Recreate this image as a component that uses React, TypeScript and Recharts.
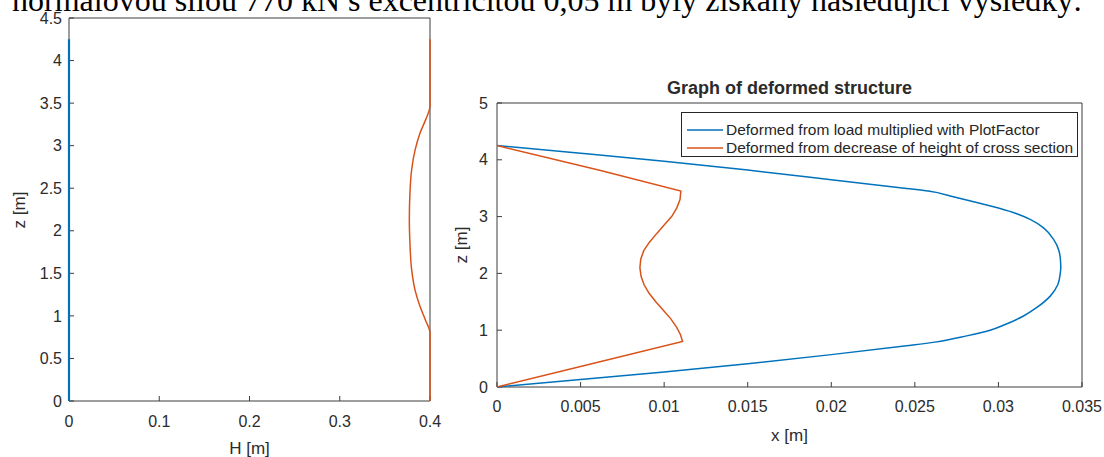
import React from 'react';
import { LineChart, Line, XAxis, YAxis, Legend } from 'recharts';

const headerText = 'normálovou silou 770 kN s excentricitou 0,05 m byly získány následující výsledky:';

// left plot: height of the cross section along the column
const hTicks = [0, 0.1, 0.2, 0.3, 0.4];
const zTicksLeft = [0, 0.5, 1, 1.5, 2, 2.5, 3, 3.5, 4, 4.5];
const axisH = [0, 0];
const axisZ = [4.25, 0];
const heightH = [0.4, 0.4, 0.395, 0.389, 0.3835, 0.3797, 0.3778, 0.3771, 0.3778, 0.3797, 0.3835, 0.389, 0.395, 0.4, 0.4];
const heightZ = [4.25, 3.47, 3.3, 3.15, 2.95, 2.72, 2.45, 2.13, 1.85, 1.54, 1.3, 1.11, 0.95, 0.8, 0];

// right plot: deformed shapes
const xTicks = [0, 0.005, 0.01, 0.015, 0.02, 0.025, 0.03, 0.035];
const zTicksRight = [0, 1, 2, 3, 4, 5];
const seriesNames = ['Deformed from load multiplied with PlotFactor', 'Deformed from decrease of height of cross section'];
const loadX = [
  0, 0.005, 0.01, 0.015, 0.02, 0.0245, 0.0258, 0.0273, 0.0287, 0.03, 0.0311, 0.0319, 0.0327, 0.0333, 0.03362, 0.03372,
  0.03373, 0.0337, 0.03355, 0.0331, 0.0323, 0.0315, 0.0304, 0.0295, 0.0281, 0.0262, 0.0245, 0.02, 0.015, 0.01, 0.005, 0,
];
const loadZ = [
  4.25, 4.115, 3.975, 3.82, 3.65, 3.495, 3.45, 3.35, 3.25, 3.15, 3.05, 2.95, 2.8, 2.6, 2.4, 2.2,
  2.1, 2.0, 1.8, 1.6, 1.4, 1.25, 1.1, 1.0, 0.9, 0.79, 0.725, 0.57, 0.41, 0.265, 0.13, 0,
];
const sectionX = [
  0, 0.0062, 0.011, 0.01095, 0.01075, 0.01045, 0.01, 0.00955, 0.00912, 0.00878, 0.0086, 0.00855,
  0.00862, 0.0088, 0.0091, 0.0095, 0.00995, 0.0104, 0.01075, 0.01098, 0.0111, 0.005, 0,
];
const sectionZ = [
  4.25, 3.81, 3.45, 3.3, 3.15, 3.0, 2.85, 2.7, 2.55, 2.4, 2.25, 2.1,
  1.95, 1.8, 1.65, 1.5, 1.35, 1.2, 1.05, 0.92, 0.8, 0.36, 0,
];

const toPoints = (xs: number[], zs: number[]) => xs.map((x, i) => ({ x, z: zs[i] }));

const BLUE = '#0072BD';
const ORANGE = '#D95319';
const AXIS = '#3c3c3c';
const FONT = '"Liberation Sans", Arial, Helvetica, sans-serif';
const tickStyle = { fill: '#2b2b2b', fontSize: 16, fontFamily: FONT };

const labelStyle: React.CSSProperties = {
  position: 'absolute',
  fontFamily: FONT,
  fontSize: 17,
  color: '#2b2b2b',
  lineHeight: '20px',
  whiteSpace: 'nowrap',
};

const rotated = (cx: number, cy: number): React.CSSProperties => ({
  ...labelStyle,
  left: cx,
  top: cy,
  transform: 'translate(-50%, -50%) rotate(-90deg)',
});

const renderLegend = (props: any) => {
  const entries = (props.payload || []).filter((e: any) => seriesNames.includes(e.value));
  entries.sort((a: any, b: any) => seriesNames.indexOf(a.value) - seriesNames.indexOf(b.value));
  return (
    <div
      style={{
        border: '1px solid #262626',
        background: '#fff',
        width: 397,
        height: 45,
        paddingTop: 8,
        boxSizing: 'border-box',
        fontFamily: FONT,
        fontSize: 15.5,
        color: '#262626',
      }}
    >
      {entries.map((entry: any) => (
        <div key={entry.value} style={{ display: 'flex', alignItems: 'center', height: 18, lineHeight: '18px' }}>
          <svg width={36} height={4} style={{ marginLeft: 5 }}>
            <line x1={0} y1={2} x2={36} y2={2} stroke={entry.color} strokeWidth={1.5} />
          </svg>
          <span style={{ marginLeft: 3, whiteSpace: 'nowrap' }}>{entry.value}</span>
        </div>
      ))}
    </div>
  );
};

// axes box with inward ticks on all four sides (MATLAB style)
const AxesBox: React.FC<{
  width: number; height: number; margin: any; xDomain: number[]; yDomain: number[];
  xTicks: number[]; yTicks: number[]; yWidth: number; xMargin: number; yMargin: number; points: any[];
}> = ({ width, height, margin, xDomain, yDomain, xTicks, yTicks, yWidth, xMargin, yMargin, points }) => (
  <LineChart width={width} height={height} margin={margin}>
    <XAxis xAxisId="b" type="number" dataKey="x" domain={xDomain} ticks={xTicks} interval={0} height={40}
      stroke={AXIS} tickSize={-5} tickMargin={xMargin} tick={tickStyle} allowDataOverflow />
    <XAxis xAxisId="t" orientation="top" type="number" dataKey="x" domain={xDomain} ticks={xTicks} interval={0} height={1}
      stroke={AXIS} tickSize={-5} tick={false} allowDataOverflow />
    <YAxis yAxisId="l" type="number" dataKey="z" domain={yDomain} ticks={yTicks} interval={0} width={yWidth}
      stroke={AXIS} tickSize={-5} tickMargin={yMargin} tick={tickStyle} allowDataOverflow />
    <YAxis yAxisId="r" orientation="right" type="number" dataKey="z" domain={yDomain} ticks={yTicks} interval={0} width={1}
      stroke={AXIS} tickSize={-5} tick={false} allowDataOverflow />
    <Line xAxisId="b" yAxisId="l" data={points} dataKey="z" stroke="none" legendType="none"
      dot={false} activeDot={false} isAnimationActive={false} />
    <Line xAxisId="t" yAxisId="r" data={points} dataKey="z" stroke="none" legendType="none"
      dot={false} activeDot={false} isAnimationActive={false} />
  </LineChart>
);

const App: React.FC = () => {
  const layer: React.CSSProperties = { position: 'absolute', left: 0, top: 0 };
  return (
    <div style={{ position: 'absolute', left: 0, top: 0, width: 1104, height: 457, overflow: 'hidden', background: '#fff' }}>
      <div
        style={{
          position: 'absolute',
          left: 12,
          top: -16,
          fontFamily: '"Liberation Serif", "Times New Roman", serif',
          fontSize: 32,
          lineHeight: '32px',
          whiteSpace: 'nowrap',
          color: '#000',
        }}
      >
        {headerText}
      </div>

      {/* left plot */}
      <div style={{ position: 'absolute', left: 0, top: 0, width: 450, height: 457 }}>
        <div style={layer}>
          <AxesBox width={450} height={457} margin={{ top: 17, right: 19, bottom: 16, left: 9 }}
            xDomain={[0, 0.4]} yDomain={[0, 4.5]} xTicks={hTicks} yTicks={zTicksLeft}
            yWidth={60} xMargin={20} yMargin={12} points={toPoints(axisH, axisZ)} />
        </div>
        <div style={layer}>
          <LineChart width={450} height={457} margin={{ top: 18, right: 20, bottom: 56, left: 69 }}>
            <XAxis type="number" dataKey="x" domain={[0, 0.4]} hide />
            <YAxis type="number" dataKey="z" domain={[0, 4.5]} hide />
            <Line data={toPoints(axisH, axisZ)} dataKey="z" type="linear" stroke={BLUE}
              strokeWidth={2.2} dot={false} isAnimationActive={false} />
            <Line data={toPoints(heightH, heightZ)} dataKey="z" type="monotoneY" stroke={ORANGE}
              strokeWidth={1.5} dot={false} isAnimationActive={false} />
          </LineChart>
        </div>
      </div>
      <div style={rotated(20, 210)}>z [m]</div>
      <div style={{ ...labelStyle, left: 69, width: 361, top: 439, textAlign: 'center' }}>H [m]</div>

      {/* right plot */}
      <div style={{ position: 'absolute', left: 440, top: 60, width: 664, height: 397 }}>
        <div style={layer}>
          <AxesBox width={664} height={397} margin={{ top: 42, right: 21, bottom: 30, left: 7 }}
            xDomain={[0, 0.035]} yDomain={[0, 5]} xTicks={xTicks} yTicks={zTicksRight}
            yWidth={50} xMargin={19} yMargin={14} points={toPoints(loadX, loadZ)} />
        </div>
        <div style={layer}>
          <LineChart width={664} height={397} margin={{ top: 43, right: 22, bottom: 70, left: 57 }}>
            <XAxis type="number" dataKey="x" domain={[0, 0.035]} hide />
            <YAxis type="number" dataKey="z" domain={[0, 5]} hide />
            <Legend content={renderLegend} layout="vertical" align="center" verticalAlign="middle"
              wrapperStyle={{ left: 241, top: 52, width: 397 }} />
            <Line data={toPoints(loadX, loadZ)} dataKey="z" name={seriesNames[0]}
              type="monotoneY" stroke={BLUE} strokeWidth={1.5} dot={false} isAnimationActive={false} />
            <Line data={toPoints(sectionX, sectionZ)} dataKey="z" name={seriesNames[1]}
              type="linear" stroke={ORANGE} strokeWidth={1.5} dot={false} isAnimationActive={false} />
          </LineChart>
        </div>
      </div>
      <div style={{ ...labelStyle, left: 497, width: 585, top: 78, textAlign: 'center', fontWeight: 'bold', fontSize: 18 }}>
        Graph of deformed structure
      </div>
      <div style={rotated(462, 245)}>z [m]</div>
      <div style={{ ...labelStyle, left: 497, width: 585, top: 426, textAlign: 'center' }}>x [m]</div>
    </div>
  );
};

export default App;
